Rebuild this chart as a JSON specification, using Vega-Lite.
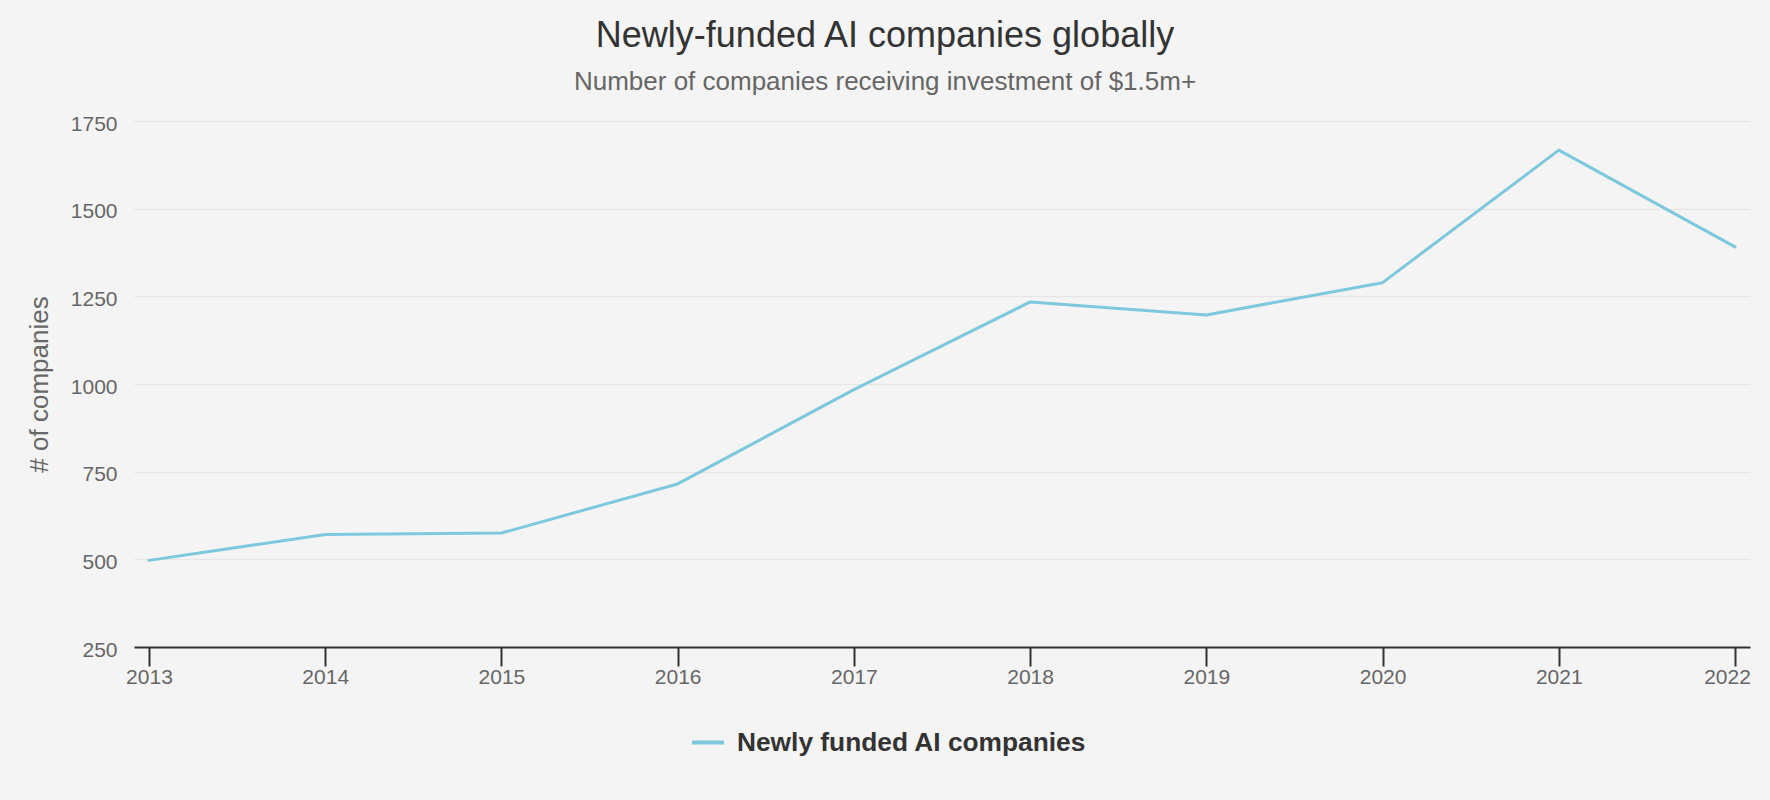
{
  "$schema": "https://vega.github.io/schema/vega-lite/v6.json",
  "autosize": "none",
  "width": 1616,
  "height": 526,
  "padding": {"left": 134, "top": 121, "right": 20, "bottom": 153},
  "background": "#f4f4f4",
  "title": {
    "text": "Newly-funded AI companies globally",
    "subtitle": "Number of companies receiving investment of $1.5m+",
    "anchor": "middle",
    "frame": "group",
    "dx": -57,
    "font": "Liberation Sans",
    "fontSize": 36,
    "fontWeight": "normal",
    "color": "#333333",
    "subtitleFont": "Liberation Sans",
    "subtitleFontSize": 26,
    "subtitleColor": "#666666",
    "subtitlePadding": 13.6,
    "offset": 17.5
  },
  "data": {
    "values": [
      {"year": "2013", "companies": 497, "series": "Newly funded AI companies"},
      {"year": "2014", "companies": 571, "series": "Newly funded AI companies"},
      {"year": "2015", "companies": 575, "series": "Newly funded AI companies"},
      {"year": "2016", "companies": 715, "series": "Newly funded AI companies"},
      {"year": "2017", "companies": 984, "series": "Newly funded AI companies"},
      {"year": "2018", "companies": 1234, "series": "Newly funded AI companies"},
      {"year": "2019", "companies": 1197, "series": "Newly funded AI companies"},
      {"year": "2020", "companies": 1289, "series": "Newly funded AI companies"},
      {"year": "2021", "companies": 1667, "series": "Newly funded AI companies"},
      {"year": "2022", "companies": 1391, "series": "Newly funded AI companies"}
    ]
  },
  "mark": {"type": "line", "strokeWidth": 3, "strokeJoin": "round", "strokeCap": "round"},
  "encoding": {
    "x": {
      "field": "year",
      "type": "ordinal",
      "scale": {"type": "point", "padding": 0.085},
      "axis": {
        "title": null,
        "labelAngle": 0,
        "labelFont": "Liberation Sans",
        "labelFontSize": 21,
        "labelColor": "#666666",
        "labelPadding": 0,
        "labelOffset": {"condition": {"test": "datum.value === '2022'", "value": -8}, "value": 0},
        "tickSize": 19,
        "tickWidth": 2,
        "tickColor": "#333333",
        "domainColor": "#333333",
        "domainWidth": 2,
        "grid": false
      }
    },
    "y": {
      "field": "companies",
      "type": "quantitative",
      "scale": {"domain": [250, 1750], "nice": false, "zero": false},
      "axis": {
        "title": "# of companies",
        "values": [250, 500, 750, 1000, 1250, 1500, 1750],
        "format": "d",
        "labelFont": "Liberation Sans",
        "labelFontSize": 21,
        "labelColor": "#666666",
        "labelPadding": 17,
        "labelBaseline": "middle",
        "labelOffset": 3,
        "ticks": false,
        "domain": false,
        "grid": true,
        "gridColor": "#e6e6e6",
        "gridWidth": 1.5,
        "titleFont": "Liberation Sans",
        "titleFontSize": 26,
        "titleFontWeight": "normal",
        "titleColor": "#666666",
        "titlePadding": 17.5
      }
    },
    "color": {
      "field": "series",
      "type": "nominal",
      "scale": {"range": ["#7ec8dd"]},
      "legend": {
        "title": null,
        "orient": "none",
        "legendX": 556,
        "legendY": 603.5,
        "padding": 0,
        "symbolType": "stroke",
        "symbolSize": 1024,
        "symbolStrokeWidth": 4,
        "labelFont": "Liberation Sans",
        "labelFontSize": 26.3,
        "labelFontWeight": "bold",
        "labelColor": "#333333",
        "labelOffset": 11,
        "labelLimit": 600
      }
    }
  },
  "config": {
    "view": {"stroke": null}
  }
}
